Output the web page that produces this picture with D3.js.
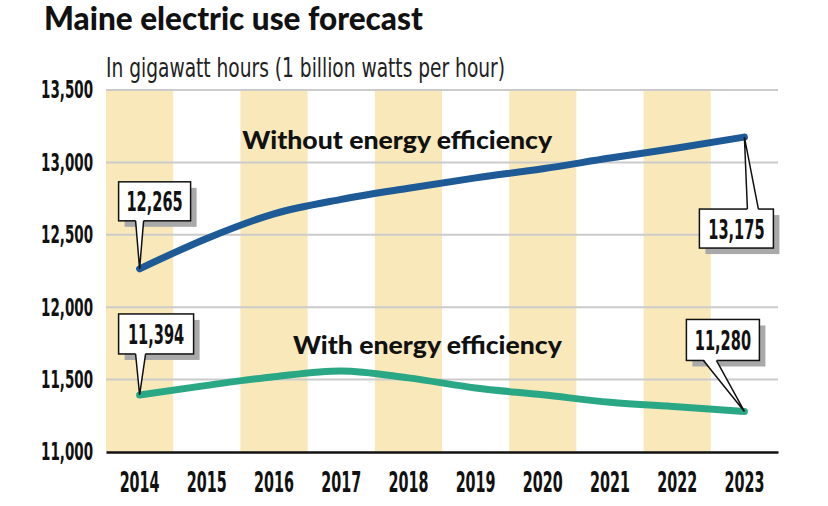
<!DOCTYPE html>
<html>
<head>
<meta charset="utf-8">
<script src="https://d3js.org/d3.v7.min.js"></script>
<style>
  body { margin: 0; background: #fff; }
  .narrow { font-family: "Liberation Sans Narrow", "DejaVu Sans Condensed", sans-serif; }
</style>
</head>
<body>
<svg id="chart" width="828" height="506"></svg>

<script>
    // data
    const years = [2014, 2015, 2016, 2017, 2018, 2019, 2020, 2021, 2022, 2023];
    const withoutEff = [12265, 12475, 12645, 12745, 12822, 12893, 12956, 13030, 13100, 13175];
    const withEff = [11394, 11460, 11520, 11560, 11512, 11442, 11395, 11343, 11312, 11280];
    const yTicks = [11000, 11500, 12000, 12500, 13000, 13500];

    const svg = d3.select("#chart");
    const plotLeft = 106, plotRight = 778, plotTop = 90, plotBottom = 452;

    const x = d3.scaleBand().domain(years).range([plotLeft, plotRight]).padding(0);
    const y = d3.scaleLinear().domain([11000, 13500]).range([plotBottom, plotTop]);
    const cx = d => x(d) + x.bandwidth() / 2;

    // no condensed face installed, so squeeze glyphs horizontally
    function squeeze(sel, factor) {
        sel.each(function () {
            const w = this.getComputedTextLength();
            d3.select(this)
                .attr("lengthAdjust", "spacingAndGlyphs")
                .attr("textLength", w * factor);
        });
    }

    // title and subtitle
    svg.append("text")
        .attr("x", 44).attr("y", 30)
        .attr("font-family", "Lato, 'Open Sans', sans-serif")
        .attr("font-weight", 900)
        .attr("font-size", 31.5)
        .attr("fill", "#111")
        .text("Maine electric use forecast");

    svg.append("text")
        .attr("class", "narrow")
        .attr("x", 106).attr("y", 77)
        .attr("font-size", 27)
        .attr("fill", "#222")
        .attr("lengthAdjust", "spacingAndGlyphs")
        .attr("textLength", 399)
        .text("In gigawatt hours (1 billion watts per hour)");

    // alternating year bands
    svg.append("g").selectAll("rect")
        .data(years.filter((d, i) => i % 2 === 0))
        .join("rect")
        .attr("x", d => x(d))
        .attr("y", plotTop)
        .attr("width", x.bandwidth())
        .attr("height", plotBottom - plotTop)
        .attr("fill", "#f9e9ba");

    // gridlines
    svg.append("g").selectAll("line")
        .data(yTicks.filter(d => d > 11000))
        .join("line")
        .attr("x1", plotLeft).attr("x2", plotRight)
        .attr("y1", d => y(d)).attr("y2", d => y(d))
        .attr("stroke", "#cbcbcb")
        .attr("stroke-width", 2);

    // y axis labels
    const yAxis = svg.append("g")
        .attr("transform", `translate(${plotLeft},0)`)
        .call(d3.axisLeft(y).tickValues(yTicks).tickSize(0).tickPadding(13).tickFormat(d3.format(",")));
    yAxis.select(".domain").remove();
    yAxis.selectAll("text")
        .attr("class", "narrow")
        .attr("font-size", 24.5)
        .attr("font-weight", "bold")
        .attr("fill", "#111")
        .call(squeeze, 0.61);

    // x axis
    const xAxis = svg.append("g")
        .attr("transform", `translate(0,${plotBottom})`)
        .call(d3.axisBottom(x).tickSize(0).tickPadding(20));
    xAxis.select(".domain").attr("stroke", "#111").attr("stroke-width", 2.5);
    xAxis.selectAll("text")
        .attr("class", "narrow")
        .attr("font-size", 27.5)
        .attr("font-weight", "bold")
        .attr("fill", "#111")
        .call(squeeze, 0.58);

    // lines
    const line = d3.line()
        .x((d, i) => cx(years[i]))
        .y(d => y(d))
        .curve(d3.curveMonotoneX);

    svg.append("path")
        .datum(withoutEff)
        .attr("d", line)
        .attr("fill", "none")
        .attr("stroke", "#1d5a96")
        .attr("stroke-width", 7)
        .attr("stroke-linecap", "round");

    svg.append("path")
        .datum(withEff)
        .attr("d", line)
        .attr("fill", "none")
        .attr("stroke", "#2aa886")
        .attr("stroke-width", 7)
        .attr("stroke-linecap", "round");

    // series labels
    svg.append("text")
        .attr("x", cx(2017) + 56).attr("y", y(13000) - 13)
        .attr("text-anchor", "middle")
        .attr("font-family", "Lato, 'Open Sans', sans-serif")
        .attr("font-weight", 900)
        .attr("font-size", 25)
        .attr("fill", "#111")
        .attr("lengthAdjust", "spacingAndGlyphs")
        .attr("textLength", 310)
        .text("Without energy efficiency");

    svg.append("text")
        .attr("x", cx(2018) + 19).attr("y", y(11500) - 26)
        .attr("text-anchor", "middle")
        .attr("font-family", "Lato, 'Open Sans', sans-serif")
        .attr("font-weight", 900)
        .attr("font-size", 25)
        .attr("fill", "#111")
        .attr("lengthAdjust", "spacingAndGlyphs")
        .attr("textLength", 269)
        .text("With energy efficiency");

    // callout boxes: box offset relative to the point, plus pointer base on box edge
    function callout(year, value, box, base) {
        const px = cx(year), py = y(value);
        const g = svg.append("g").attr("transform", `translate(${px},${py})`);
        const [bx, by, bw, bh] = box;
        g.append("rect")
            .attr("x", bx + 6).attr("y", by + 6)
            .attr("width", bw).attr("height", bh)
            .attr("fill", "#a9a9a9");
        g.append("rect")
            .attr("x", bx).attr("y", by)
            .attr("width", bw).attr("height", bh)
            .attr("fill", "#fff")
            .attr("stroke", "#111")
            .attr("stroke-width", 1.5);
        const edge = base.edge;
        const inside = base.top ? 1.5 : -1.5;
        g.append("path")
            .attr("d", `M${base.a},${edge + inside}L0,0L${base.b},${edge + inside}Z`)
            .attr("fill", "#fff");
        g.append("path")
            .attr("d", `M${base.a},${edge}L0,0L${base.b},${edge}`)
            .attr("fill", "none")
            .attr("stroke", "#111")
            .attr("stroke-width", 1.5);
        g.append("text")
            .attr("class", "narrow")
            .attr("x", bx + bw / 2).attr("y", by + bh / 2 + 10)
            .attr("text-anchor", "middle")
            .attr("font-size", 27)
            .attr("font-weight", "bold")
            .attr("fill", "#111")
            .text(d3.format(",")(value))
            .call(squeeze, 0.6);
    }

    callout(2014, withoutEff[0], [-21, -87, 72, 39], { a: -4, b: 4, edge: -48, top: false });
    callout(2023, withoutEff[9], [-45, 72, 74, 39], { a: 3, b: 14, edge: 72, top: true });
    callout(2014, withEff[0], [-21, -81, 75, 40], { a: -4, b: 6, edge: -41, top: false });
    callout(2023, withEff[9], [-58, -92, 73, 41], { a: -41, b: -28, edge: -51, top: false });
</script>
</body>
</html>
